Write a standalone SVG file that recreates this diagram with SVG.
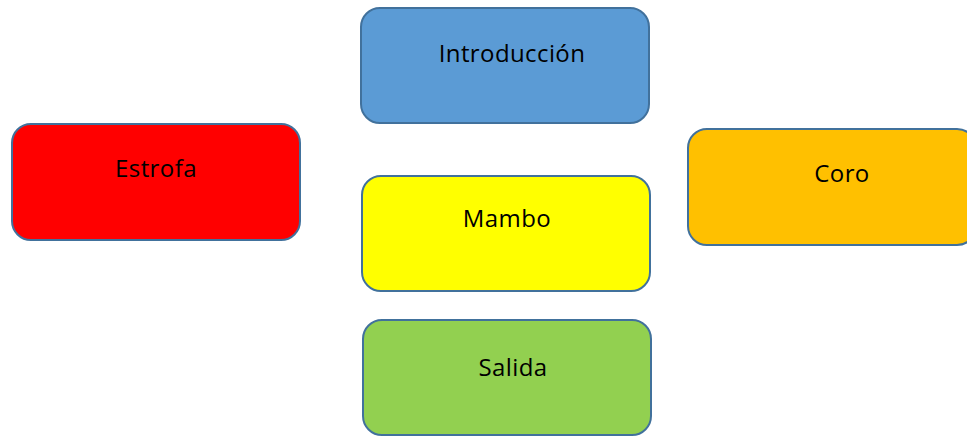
<svg xmlns="http://www.w3.org/2000/svg" width="967" height="436" viewBox="0 0 967 436">
<style>
.box{stroke:#41719C;stroke-width:2}
.lbl{font-family:"Open Sans","Liberation Sans",sans-serif;font-size:24px;letter-spacing:0.4px;fill:#000;text-anchor:middle}
</style>
<rect width="967" height="436" fill="#fff"/>
<g id="introduccion"><rect class="box" x="361" y="8" width="288" height="115" rx="19" fill="#5B9BD5"/><text class="lbl" x="512" y="62">Introducción</text></g>
<g id="estrofa"><rect class="box" x="12" y="124" width="288" height="116" rx="19" fill="#FF0000"/><text class="lbl" x="156" y="177">Estrofa</text></g>
<g id="mambo"><rect class="box" x="362" y="176" width="288" height="115" rx="19" fill="#FFFF00"/><text class="lbl" x="507" y="227">Mambo</text></g>
<g id="coro"><rect class="box" x="688" y="129" width="288" height="116" rx="19" fill="#FFC000"/><text class="lbl" x="842" y="182">Coro</text></g>
<g id="salida"><rect class="box" x="363" y="320" width="288" height="115" rx="19" fill="#92D050"/><text class="lbl" x="513" y="376">Salida</text></g>
<g id="connectors"></g>
</svg>
